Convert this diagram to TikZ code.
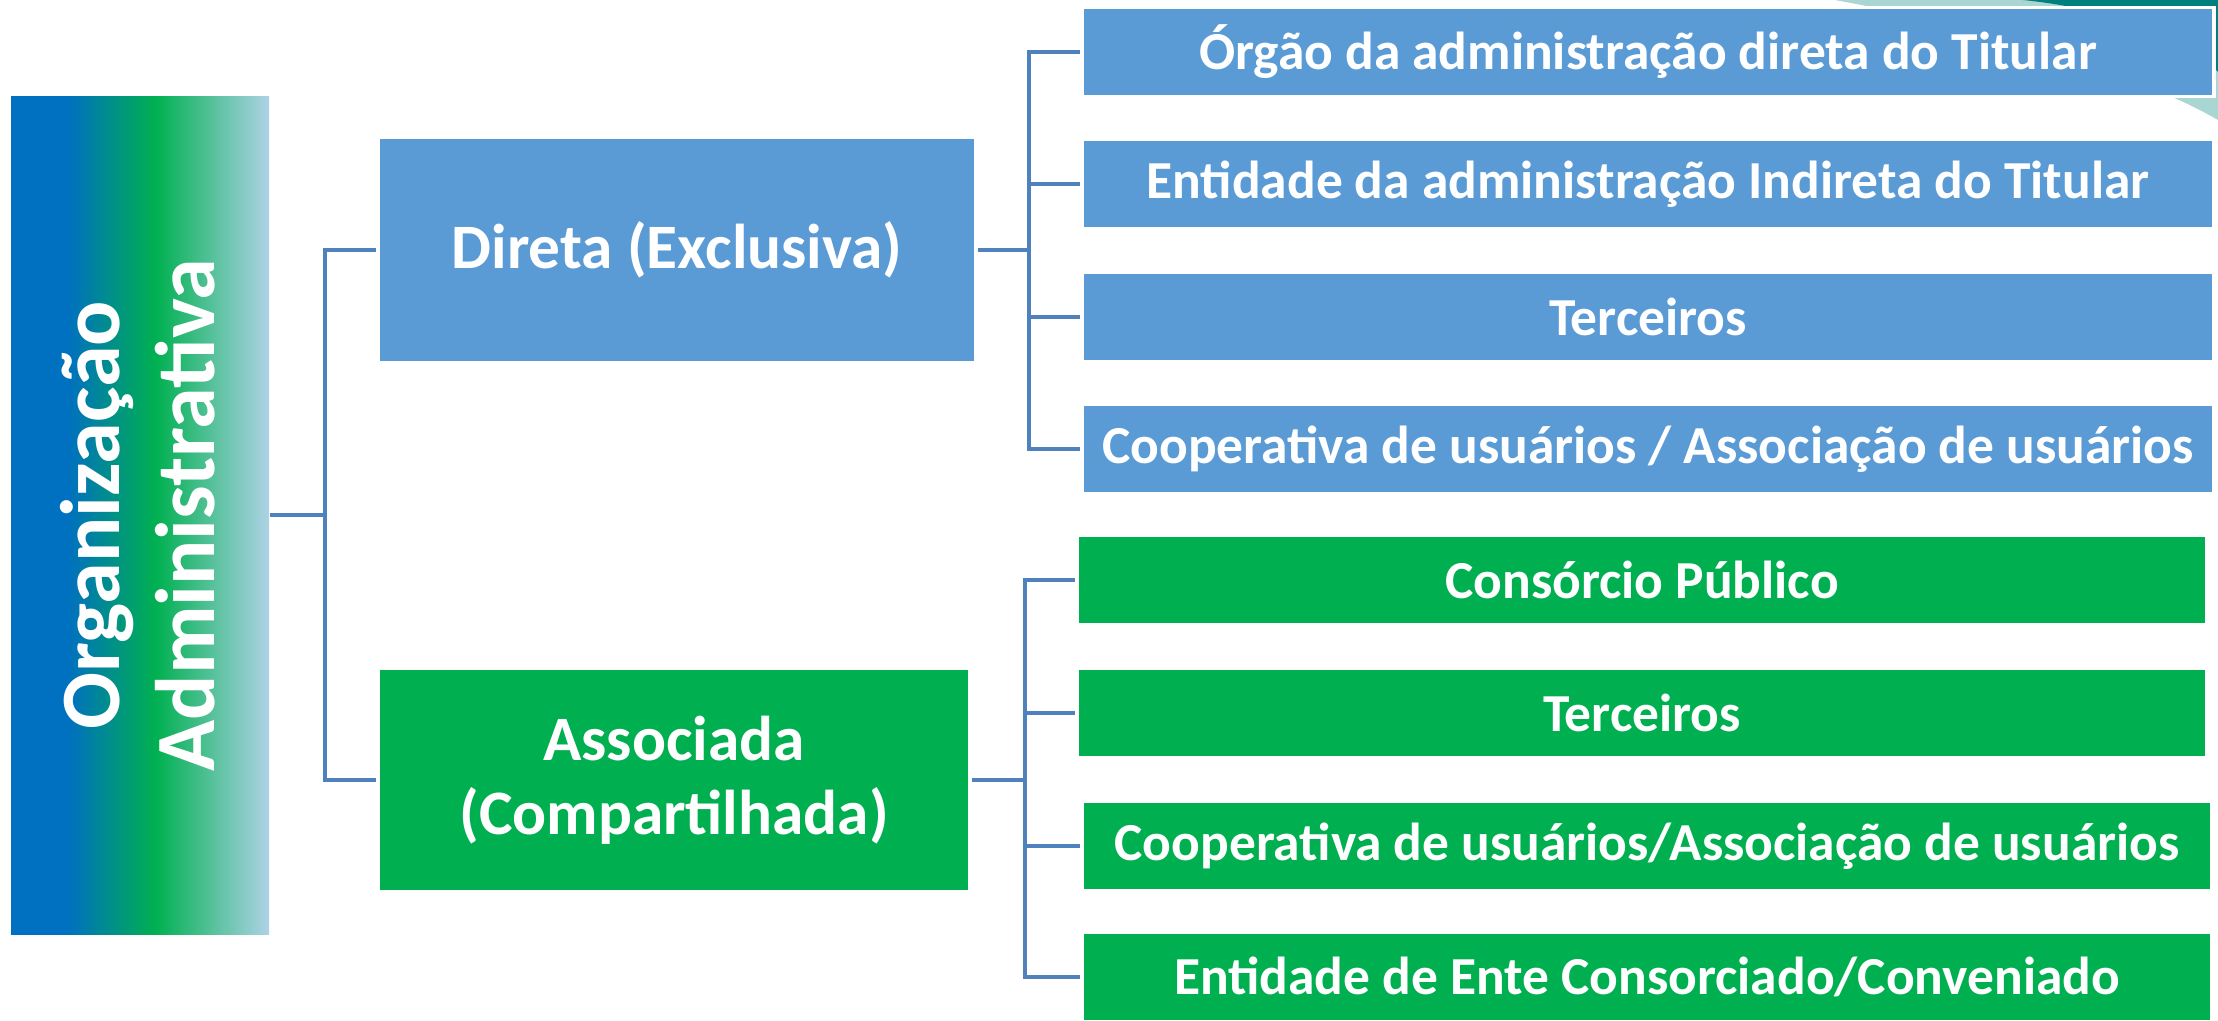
\documentclass[tikz,border=0pt]{standalone}
\usepackage{fontspec}
\setmainfont{Carlito}
\definecolor{azul}{HTML}{5B9BD5}
\definecolor{verde}{HTML}{00B050}
\definecolor{linha}{HTML}{4F81BD}
\definecolor{orgazul}{HTML}{0070C0}
\definecolor{orgclaro}{HTML}{AED2E6}
\definecolor{tealescuro}{HTML}{007F7F}
\definecolor{tealclaro}{HTML}{A9D6D3}
\pgfdeclarehorizontalshading{orggrad}{100bp}{color(0bp)=(orgazul); color(25bp)=(orgazul);
  color(36bp)=(orgazul); color(53bp)=(verde); color(75bp)=(orgclaro); color(100bp)=(orgclaro)}
\tikzset{
  caixa/.style={draw=white, line width=1pt, text=white, font=\bfseries, inner sep=0pt},
  folha/.style={caixa, minimum height=0.89cm, font=\bfseries\fontsize{15.2}{18}\selectfont},
  ramo/.style={caixa, align=center, font=\bfseries\fontsize{18}{21}\selectfont},
  liga/.style={draw=linha, line width=0.9pt},
}
\begin{document}
\begin{tikzpicture}[x=0.01cm,y=-0.01cm]
      \useasboundingbox (0,0) rectangle (2218,1020);
      % fundo do slide
      \fill[tealclaro] (1835,0) .. controls (2000,30) and (2150,80) .. (2218,120) -- (2218,0) -- cycle;
      \fill[tealescuro] (2023,0) .. controls (2120,10) and (2190,40) .. (2218,72) -- (2218,0) -- cycle;
      \shade[shading=orggrad] (11,96) rectangle (269,934);
      \draw
        (138,515) node[text=white, font=\bfseries\fontsize{24}{27}\selectfont, align=center, rotate=90,
          inner sep=0pt] (txt){Organização\\Administrativa}
        (140,515) node[rotate=90, minimum width=8.38cm, minimum height=2.58cm, inner sep=0pt] (org){}
        (677,250) node[ramo, fill=azul, minimum width=5.98cm, minimum height=2.25cm] (direta){Direta (Exclusiva)}
        (674,780) node[ramo, fill=verde, minimum width=5.92cm, minimum height=2.23cm] (associada){Associada\\(Compartilhada)}
        (1648,52) node[folha, fill=azul, minimum width=11.31cm] (d1){Órgão da administração direta do Titular}
        (1648,184) node[folha, fill=azul, minimum width=11.31cm] (d2){Entidade da administração Indireta do Titular}
        (1648,317) node[folha, fill=azul, minimum width=11.31cm] (d3){Terceiros}
        (1648,449) node[folha, fill=azul, minimum width=11.31cm] (d4){Cooperativa de usuários / Associação de usuários}
        (1642,580) node[folha, fill=verde, minimum width=11.29cm] (a1){Consórcio Público}
        (1642,713) node[folha, fill=verde, minimum width=11.29cm] (a2){Terceiros}
        (1647,846) node[folha, fill=verde, minimum width=11.29cm] (a3){Cooperativa de usuários/Associação de usuários}
        (1647,977) node[folha, fill=verde, minimum width=11.29cm] (a4){Entidade de Ente Consorciado/Conveniado};
      \coordinate (b0) at (325,515);
      \coordinate (b1) at (1029,250);
      \coordinate (b2) at (1025,780);
      \begin{scope}[liga]
        \draw (org.south) to (b0);
        \draw (b0) |- (direta.west);
        \draw (b0) |- (associada.west);
        \draw (direta.east) to (b1);
        \draw (b1) |- (d1.west);
        \draw (b1) |- (d2.west);
        \draw (b1) |- (d3.west);
        \draw (b1) |- (d4.west);
        \draw (associada.east) to (b2);
        \draw (b2) |- (a1.west);
        \draw (b2) |- (a2.west);
        \draw (b2) |- (a3.west);
        \draw (b2) |- (a4.west);
      \end{scope}
    \end{tikzpicture}
\end{document}
